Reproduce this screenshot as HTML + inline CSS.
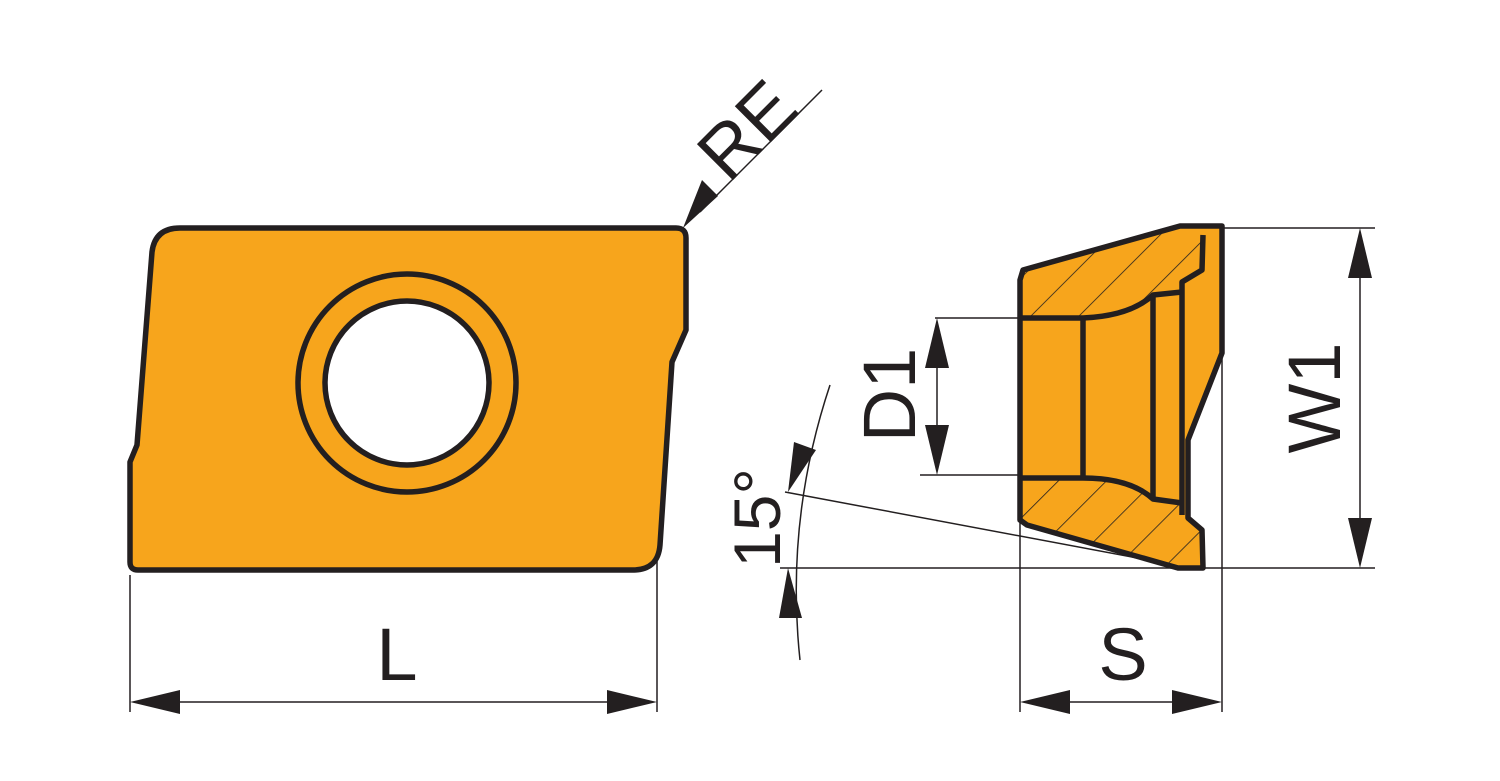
<!DOCTYPE html>
<html><head><style>body{margin:0;background:#fff}svg{display:block}</style></head><body>
<svg width="1500" height="781" viewBox="0 0 1500 781" xmlns="http://www.w3.org/2000/svg" font-family="Liberation Sans, sans-serif">
<defs>
<pattern id="h" patternUnits="userSpaceOnUse" width="34" height="34" patternTransform="rotate(45)">
<line x1="0" y1="0" x2="0" y2="34" stroke="#231f20" stroke-width="1.6"/>
</pattern>
</defs>
<g stroke="#231f20" fill="none" stroke-width="1.5">
<line x1="130" y1="575" x2="130" y2="712"/><line x1="657" y1="560" x2="657" y2="712"/>
<line x1="1020" y1="520" x2="1020" y2="712"/><line x1="1222" y1="353" x2="1222" y2="712"/>
<line x1="1222" y1="228" x2="1375" y2="228"/><line x1="780" y1="568" x2="1375" y2="568"/>
<line x1="935" y1="318" x2="1020" y2="318"/><line x1="920" y1="475" x2="1020" y2="475"/>
<line x1="785" y1="492" x2="1180" y2="566"/>
<path d="M830,385 Q785,520 800,660"/>
<line x1="822" y1="90" x2="700" y2="212"/>
</g>
<g fill="#231f20">
<line x1="180" y1="702" x2="607" y2="702" stroke="#231f20" stroke-width="1.5"/>
<path d="M130,702 L180,690 L180,714z"/><path d="M657,702 L607,690 L607,714z"/>
<line x1="1070" y1="702" x2="1172" y2="702" stroke="#231f20" stroke-width="1.5"/>
<path d="M1020,702 L1070,690 L1070,714z"/><path d="M1222,702 L1172,690 L1172,714z"/>
<line x1="1360" y1="278" x2="1360" y2="518" stroke="#231f20" stroke-width="1.5"/>
<path d="M1360,228 L1348,278 L1372,278z"/><path d="M1360,568 L1348,518 L1372,518z"/>
<line x1="937" y1="368" x2="937" y2="425" stroke="#231f20" stroke-width="1.5"/>
<path d="M937,318 L925,368 L949,368z"/><path d="M937,475 L925,425 L949,425z"/>
<path d="M683,228 L702,180 L718,196z"/>
<path d="M788,492 L794,442 L816,450z"/>
<path d="M788,568 L779,618 L802,618z"/>
</g>
<path d="M152,252 Q155,228 180,228 L676,228 Q686,228 686,238 L686,330 L672,362 L660,545 Q658,570 633,570 L138,570 Q130,570 130,562 L130,462 L137,445 Z" fill="#f7a51c" stroke="#231f20" stroke-width="5.5" stroke-linejoin="round"/>
<circle cx="407" cy="383" r="109" fill="none" stroke="#231f20" stroke-width="5.5"/>
<circle cx="407" cy="383" r="82" fill="#fff" stroke="#231f20" stroke-width="5.5"/>
<path d="M1023,270 L1180,226 L1222,226 L1222,353 L1188,440 L1188,518 L1202,530 L1203,568 L1178,568 L1027,525 L1020,520 L1020,280 Z" fill="#f7a51c"/>
<path d="M1023,270 L1180,226 L1222,226 L1222,353 L1188,440 L1188,518 L1202,530 L1203,568 L1178,568 L1027,525 L1020,520 L1020,280 Z" fill="url(#h)"/>
<path d="M1182,282 L1202,270 L1203,226 L1222,226 L1222,353 L1188,440 L1188,516 L1182,516 Z" fill="#f7a51c"/>
<path d="M1020,318 L1083,318 Q1130,316 1153,295 L1182,292 L1182,503 L1153,499 Q1130,478 1083,478 L1020,478 Z" fill="#f7a51c"/>
<g fill="none" stroke="#231f20" stroke-width="5.5" stroke-linejoin="round">
<path d="M1023,270 L1180,226 L1222,226 L1222,353 L1188,440 L1188,518 L1202,530 L1203,568 L1178,568 L1027,525 L1020,520 L1020,280 Z"/>
<path d="M1020,318 L1083,318 Q1130,316 1153,295 L1182,292"/>
<path d="M1020,478 L1083,478 Q1130,478 1153,499 L1182,503"/>
<line x1="1083" y1="318" x2="1083" y2="478"/>
<line x1="1153" y1="295" x2="1153" y2="499"/>
<path d="M1203,235 L1202,270 L1182,282 L1182,515"/>
</g>
<g fill="#231f20">
<text x="397" y="680" font-size="74" text-anchor="middle">L</text>
<text x="1123" y="680" font-size="74" text-anchor="middle">S</text>
<text transform="translate(915,395) rotate(-90)" font-size="74" text-anchor="middle">D1</text>
<text transform="translate(1340,398) rotate(-90)" font-size="74" text-anchor="middle">W1</text>
<text transform="translate(780,518) rotate(-90)" font-size="66" text-anchor="middle">15°</text>
<text transform="translate(765,148) rotate(-45)" font-size="74" text-anchor="middle">RE</text>
</g>
</svg>
</body></html>
